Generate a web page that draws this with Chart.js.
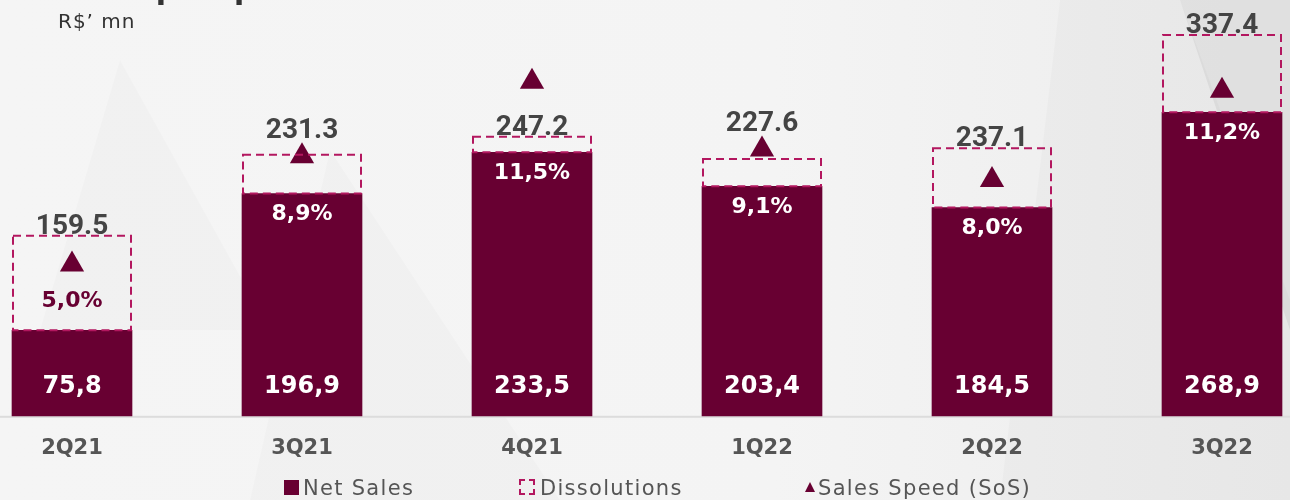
<!DOCTYPE html>
<html>
<head>
<meta charset="utf-8">
<script src="https://cdn.jsdelivr.net/npm/chart.js@4.4.1/dist/chart.umd.min.js"></script>
<style>
  body { margin: 0; background: #f4f4f4; }
  #wrap { position: relative; width: 1290px; height: 500px; overflow: hidden; }
  #title { position: absolute; left: 55px; top: -29px; font: bold 30px "DejaVu Sans"; color: #333; white-space: nowrap; }
  #unit { position: absolute; left: 58px; top: 9px; font: 20px "DejaVu Sans"; color: #333; letter-spacing: 1px; }
  .leg { position: absolute; top: 476px; font: 21px "DejaVu Sans"; color: #555; letter-spacing: 1.3px; line-height: 24px; white-space: nowrap; }
  .ico { position: absolute; }
</style>
</head>
<body>
<div id="wrap">
  <canvas id="salesChart" width="1290" height="500"></canvas>
  <div id="title">Sales per quarter</div>
  <div id="unit">R$’ mn</div>
  <div class="ico" style="left:284px;top:480px;width:15px;height:15px;background:#680032"></div>
  <div class="leg" style="left:303px">Net Sales</div>
  <div class="ico" style="left:519px;top:479px;width:12px;height:12px;border:2px dashed #b3175f"></div>
  <div class="leg" style="left:540px">Dissolutions</div>
  <div class="ico" style="left:805px;top:482px;width:0;height:0;border-left:5px solid transparent;border-right:5px solid transparent;border-bottom:10px solid #680032"></div>
  <div class="leg" style="left:818px">Sales Speed (SoS)</div>
</div>
<script>
const quarters = ['2Q21', '3Q21', '4Q21', '1Q22', '2Q22', '3Q22'];
const netSales = [75.8, 196.9, 233.5, 203.4, 184.5, 268.9];
const dissolutions = [83.7, 34.4, 13.7, 24.2, 52.6, 68.5];
const grossSales = [159.5, 231.3, 247.2, 227.6, 237.1, 337.4];
const salesSpeed = [5.0, 8.9, 11.5, 9.1, 8.0, 11.2];
// height (R$ mn scale) at which the SoS triangle sits in each column
const sosMarker = [134, 230, 296, 236, 209, 288];

const MAROON = '#680032';
const DASH = '#b3175f';
const TRI_R = 14;

const fmtComma = v => v.toFixed(1).replace('.', ',');

const backgroundPlugin = {
  id: 'bg',
  beforeDraw(chart) {
    const { ctx, width, height } = chart;
    ctx.save();
    const g = ctx.createLinearGradient(0, 0, width, 0);
    g.addColorStop(0, '#f5f5f5');
    g.addColorStop(0.6, '#f4f4f4');
    g.addColorStop(1, '#ececec');
    ctx.fillStyle = g;
    ctx.fillRect(0, 0, width, height);
    // faint background triangles
    const shapes = [
      [[120, 60], [40, 330], [270, 330]],
      [[330, 150], [250, 500], [560, 500]],
      [[1180, 0], [1290, 0], [1290, 330]],
      [[1060, 0], [1180, 0], [1290, 300], [1290, 500], [1000, 500]]
    ];
    const fills = ['rgba(0,0,0,0.015)', 'rgba(0,0,0,0.015)', 'rgba(0,0,0,0.05)', 'rgba(0,0,0,0.02)'];
    shapes.forEach((pts, k) => {
      ctx.beginPath();
      pts.forEach((p, j) => j ? ctx.lineTo(p[0], p[1]) : ctx.moveTo(p[0], p[1]));
      ctx.closePath();
      ctx.fillStyle = fills[k];
      ctx.fill();
    });
    // base line across the full width
    const y0 = chart.scales.y.getPixelForValue(0);
    ctx.fillStyle = '#dcdcdc';
    ctx.fillRect(0, y0, width, 2);
    ctx.restore();
  }
};

const labelPlugin = {
  id: 'labels',
  afterDatasetsDraw(chart) {
    const { ctx } = chart;
    const netMeta = chart.getDatasetMeta(0);
    const disMeta = chart.getDatasetMeta(1);
    const triMeta = chart.getDatasetMeta(2);
    ctx.save();
    ctx.textAlign = 'center';
    netMeta.data.forEach((bar, i) => {
      const n = bar.getProps(['x', 'y', 'base', 'width'], true);
      const d = disMeta.data[i].getProps(['x', 'y', 'base', 'width'], true);
      const apex = triMeta.data[i].y - TRI_R;
      // dashed dissolutions box
      ctx.setLineDash([8, 5]);
      ctx.lineWidth = 2;
      ctx.strokeStyle = DASH;
      ctx.strokeRect(d.x - d.width / 2 + 1, d.y, d.width - 2, d.base - d.y);
      ctx.setLineDash([]);

      // net sales value
      ctx.fillStyle = '#fff';
      ctx.font = 'bold 24px "DejaVu Sans"';
      ctx.textBaseline = 'middle';
      ctx.fillText(fmtComma(netSales[i]), n.x, n.base - 29);

      // sales speed %
      ctx.font = 'bold 22px "DejaVu Sans"';
      if (n.base - n.y < 110) {
        ctx.fillStyle = MAROON;
        ctx.fillText(fmtComma(salesSpeed[i]) + '%', n.x, n.y - 29);
      } else {
        ctx.fillStyle = '#fff';
        ctx.fillText(fmtComma(salesSpeed[i]) + '%', n.x, n.y + 21);
      }

      // gross total, lifted above the triangle when it pokes out of the box
      const gap = d.y - apex;
      const bottom = (gap > 0 && gap < 40) ? apex - 4 : d.y - 2;
      ctx.fillStyle = '#444';
      ctx.font = 'bold 28px Roboto';
      ctx.textBaseline = 'alphabetic';
      ctx.fillText(grossSales[i].toFixed(1), d.x, bottom);
    });
    ctx.restore();
  }
};

new Chart(document.getElementById('salesChart'), {
  data: {
    labels: quarters,
    datasets: [
      {
        type: 'bar',
        label: 'Net Sales',
        data: netSales,
        backgroundColor: MAROON,
        barThickness: 120,
        stack: 'sales',
        order: 2
      },
      {
        type: 'bar',
        label: 'Dissolutions',
        data: dissolutions,
        backgroundColor: 'rgba(0,0,0,0)',
        borderWidth: 0,
        barThickness: 120,
        stack: 'sales',
        order: 2
      },
      {
        type: 'line',
        label: 'Sales Speed (SoS)',
        data: sosMarker,
        showLine: false,
        pointStyle: 'triangle',
        pointRadius: TRI_R,
        pointBackgroundColor: MAROON,
        pointBorderWidth: 0,
        stack: 'sos',
        order: 1
      }
    ]
  },
  options: {
    responsive: false,
    devicePixelRatio: 1,
    animation: false,
    clip: false,
    layout: { padding: { left: 72, right: 68, top: 0, bottom: 19 } },
    plugins: { legend: { display: false }, tooltip: { enabled: false } },
    scales: {
      x: {
        stacked: true,
        offset: false,
        grid: { display: false, drawTicks: false },
        border: { display: false },
        ticks: {
          padding: 20,
          color: '#555',
          font: { family: 'DejaVu Sans', weight: 'bold', size: 21 }
        }
      },
      y: {
        stacked: true,
        display: false,
        min: 0,
        max: 356
      }
    }
  },
  plugins: [backgroundPlugin, labelPlugin]
});
</script>
</body>
</html>
